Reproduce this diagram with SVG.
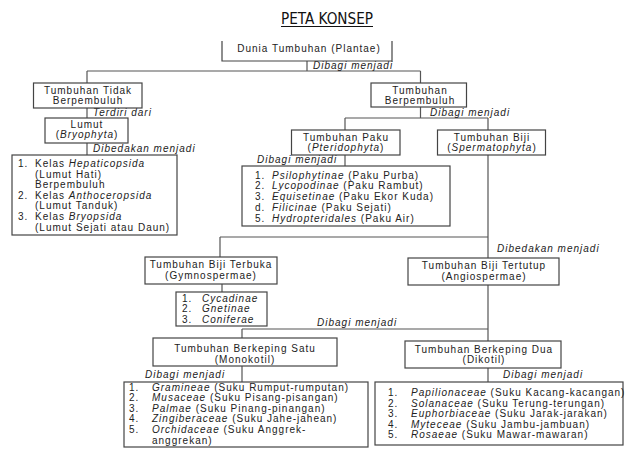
<svg xmlns="http://www.w3.org/2000/svg" width="632" height="456" viewBox="0 0 632 456">
<style>
.t{font-family:"Liberation Sans",Arial,sans-serif;font-size:10px;letter-spacing:1px;fill:#222}
.c{text-anchor:middle}
.i{font-style:italic}
.box{fill:#fff;stroke:#444;stroke-width:1.2}
.ln{fill:none;stroke:#555;stroke-width:1.2}
.title{font-family:"Liberation Sans Narrow","DejaVu Sans Condensed","Liberation Sans",sans-serif;font-size:15px;fill:#111}
</style>
<rect width="632" height="456" fill="#fff"/>
<g id="title">
<text class="title" x="281" y="24" textLength="92" lengthAdjust="spacingAndGlyphs">PETA KONSEP</text>
<line x1="281" y1="26.5" x2="373" y2="26.5" stroke="#111" stroke-width="1"/>
</g>
<g id="connectors" class="ln">
<path d="M307,61V71M87,71H420.5M87,71V83M420.5,71V83"/>
<path d="M87,108V118M87,143V155"/>
<path d="M420.5,107V118M345,118H488M345,118V130M488,118V130"/>
<path d="M345,155V166"/>
<path d="M488,155V258M220,237H488M220,237V257"/>
<path d="M222,284V292"/>
<path d="M488,285V341M242,329H488M242,329V338"/>
<path d="M242,366V382M488,368V382"/>
</g>
<g id="labels" class="t i">
<text x="313" y="68.5">Dibagi menjadi</text>
<text x="93" y="116">Terdiri dari</text>
<text x="93" y="152">Dibedakan menjadi</text>
<text x="430" y="116">Dibagi menjadi</text>
<text x="257" y="163">Dibagi menjadi</text>
<text x="497" y="251.5">Dibedakan menjadi</text>
<text x="317" y="326">Dibagi menjadi</text>
<text x="145" y="378">Dibagi menjadi</text>
<text x="503" y="378">Dibagi menjadi</text>
</g>
<g id="dunia-tumbuhan">
<path class="box" d="M222,41V61H392V41"/>
<text class="t c" x="309" y="52">Dunia Tumbuhan (Plantae)</text>
</g>
<g id="tidak-berpembuluh">
<rect class="box" x="33.5" y="83" width="108.5" height="25"/>
<text class="t c" x="88" y="94">Tumbuhan Tidak</text>
<text class="t c" x="88" y="104">Berpembuluh</text>
</g>
<g id="berpembuluh">
<rect class="box" x="371" y="83" width="95.5" height="24"/>
<text class="t c" x="420" y="94">Tumbuhan</text>
<text class="t c" x="420" y="103.5">Berpembuluh</text>
</g>
<g id="lumut">
<rect class="box" x="45" y="118" width="83" height="25"/>
<text class="t c" x="87" y="127.5">Lumut</text>
<text class="t c" x="87" y="138">(<tspan class="i">Bryophyta</tspan>)</text>
</g>
<g id="lumut-list">
<rect class="box" x="12" y="155" width="165" height="80"/>
<g class="t">
<text x="18" y="167">1.</text><text x="35" y="167">Kelas <tspan class="i">Hepaticopsida</tspan></text>
<text x="35" y="177.6">(Lumut Hati)</text>
<text x="35" y="188.2">Berpembuluh</text>
<text x="18" y="198.8">2.</text><text x="35" y="198.8">Kelas <tspan class="i">Anthoceropsida</tspan></text>
<text x="35" y="209.4">(Lumut Tanduk)</text>
<text x="18" y="220">3.</text><text x="35" y="220">Kelas <tspan class="i">Bryopsida</tspan></text>
<text x="35" y="230.6">(Lumut Sejati atau Daun)</text>
</g>
</g>
<g id="paku">
<rect class="box" x="291.5" y="130" width="108.5" height="25"/>
<text class="t c" x="346" y="140.5">Tumbuhan Paku</text>
<text class="t c" x="346" y="151">(<tspan class="i">Pteridophyta</tspan>)</text>
</g>
<g id="biji">
<rect class="box" x="437.5" y="130" width="108" height="25"/>
<text class="t c" x="492" y="140.5">Tumbuhan Biji</text>
<text class="t c" x="492" y="151">(<tspan class="i">Spermatophyta</tspan>)</text>
</g>
<g id="paku-list">
<rect class="box" x="242" y="166" width="208" height="60"/>
<g class="t">
<text x="255" y="178.5">1.</text><text x="272" y="178.5"><tspan class="i">Psilophytinae</tspan> (Paku Purba)</text>
<text x="255" y="189.3">2.</text><text x="272" y="189.3"><tspan class="i">Lycopodinae</tspan> (Paku Rambut)</text>
<text x="255" y="200">3.</text><text x="272" y="200"><tspan class="i">Equisetinae</tspan> (Paku Ekor Kuda)</text>
<text x="255" y="210.8">d.</text><text x="272" y="210.8"><tspan class="i">Filicinae</tspan> (Paku Sejati)</text>
<text x="255" y="221.5">5.</text><text x="272" y="221.5"><tspan class="i">Hydropteridales</tspan> (Paku Air)</text>
</g>
</g>
<g id="gymnospermae">
<rect class="box" x="145" y="257" width="132" height="27"/>
<text class="t c" x="211" y="268">Tumbuhan Biji Terbuka</text>
<text class="t c" x="211" y="279">(Gymnospermae)</text>
</g>
<g id="gymno-list">
<rect class="box" x="176" y="292" width="91" height="34"/>
<g class="t">
<text x="182" y="301.5">1.</text><text class="i" x="202" y="301.5">Cycadinae</text>
<text x="182" y="312">2.</text><text class="i" x="202" y="312">Gnetinae</text>
<text x="182" y="322.5">3.</text><text class="i" x="202" y="322.5">Coniferae</text>
</g>
</g>
<g id="angiospermae">
<rect class="box" x="408" y="258" width="151" height="27"/>
<text class="t c" x="484" y="269">Tumbuhan Biji Tertutup</text>
<text class="t c" x="484" y="280">(Angiospermae)</text>
</g>
<g id="monokotil">
<rect class="box" x="153" y="338" width="184" height="28"/>
<text class="t c" x="245" y="352">Tumbuhan Berkeping Satu</text>
<text class="t c" x="245" y="362.5">(Monokotil)</text>
</g>
<g id="dikotil">
<rect class="box" x="405" y="341" width="156" height="27"/>
<text class="t c" x="484" y="352.5">Tumbuhan Berkeping Dua</text>
<text class="t c" x="484" y="363">(Dikotil)</text>
</g>
<g id="mono-list">
<rect class="box" x="124" y="382" width="244" height="65"/>
<g class="t">
<text x="129" y="390.5">1.</text><text x="152" y="390.5"><tspan class="i">Gramineae</tspan> (Suku Rumput-rumputan)</text>
<text x="129" y="401.1">2.</text><text x="152" y="401.1"><tspan class="i">Musaceae</tspan> (Suku Pisang-pisangan)</text>
<text x="129" y="411.7">3.</text><text x="152" y="411.7"><tspan class="i">Palmae</tspan> (Suku Pinang-pinangan)</text>
<text x="129" y="422.3">4.</text><text x="152" y="422.3"><tspan class="i">Zingiberaceae</tspan> (Suku Jahe-jahean)</text>
<text x="129" y="432.9">5.</text><text x="152" y="432.9"><tspan class="i">Orchidaceae</tspan> (Suku Anggrek-</text>
<text x="152" y="443.5">anggrekan)</text>
</g>
</g>
<g id="dikotil-list">
<rect class="box" x="375" y="382" width="248" height="63"/>
<g class="t">
<text x="388" y="396">1.</text><text x="411" y="396"><tspan class="i">Papilionaceae</tspan> (Suku Kacang-kacangan)</text>
<text x="388" y="406.5">2.</text><text x="411" y="406.5"><tspan class="i">Solanaceae</tspan> (Suku Terung-terungan)</text>
<text x="388" y="417">3.</text><text x="411" y="417"><tspan class="i">Euphorbiaceae</tspan> (Suku Jarak-jarakan)</text>
<text x="388" y="427.5">4.</text><text x="411" y="427.5"><tspan class="i">Myteceae</tspan> (Suku Jambu-jambuan)</text>
<text x="388" y="438">5.</text><text x="411" y="438"><tspan class="i">Rosaeae</tspan> (Suku Mawar-mawaran)</text>
</g>
</g>
</svg>
